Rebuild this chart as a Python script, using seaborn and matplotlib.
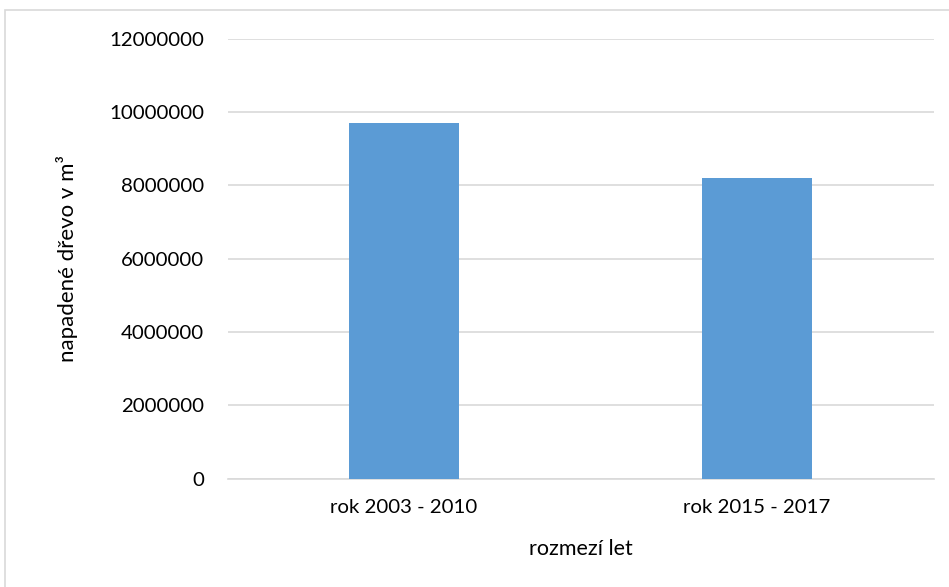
import matplotlib
matplotlib.use("Agg")
import matplotlib.pyplot as plt
import matplotlib.patches as mpatches
import seaborn as sns
import pandas as pd

categories = ["rok 2003 - 2010", "rok 2015 - 2017"]
values = [9690000, 8200000]
yticks = [0, 2000000, 4000000, 6000000, 8000000, 10000000, 12000000]

sns.set_theme(style="white")
plt.rcParams["font.family"] = ["Lato", "DejaVu Sans"]

df = pd.DataFrame({"obdobi": categories, "drevo": values})

W, H = 949, 587
fig = plt.figure(figsize=(W / 100, H / 100), dpi=100)
ax = fig.add_axes([227.5 / W, 1 - 478.5 / H, (933.5 - 227.5) / W, (478.5 - 38.7) / H])

sns.barplot(data=df, x="obdobi", y="drevo", color="#5B9BD5", width=0.31,
            saturation=1, linewidth=0, ax=ax, zorder=3)

ax.set_ylim(0, 12000000)
ax.set_xlim(-0.5, 1.5)
ax.set_yticks(yticks)
ax.set_yticklabels([str(v) for v in yticks])
ax.yaxis.grid(True, color="#D9D9D9", linewidth=1.2, zorder=0)
ax.xaxis.grid(False)
for side in ["top", "right", "left"]:
    ax.spines[side].set_visible(False)
ax.spines["bottom"].set_color("#D9D9D9")
ax.spines["bottom"].set_linewidth(1.2)
ax.tick_params(axis="y", length=0, pad=17, labelsize=14.7, labelcolor="#000000")
ax.tick_params(axis="x", length=0, pad=15, labelsize=14.7, labelcolor="#000000")

ax.set_xlabel("rozmezí let", fontsize=15.5, labelpad=16, color="#000000")
ax.set_ylabel("napadené dřevo v m³", fontsize=16, labelpad=22, color="#000000")

# outer chart frame
frame = mpatches.Rectangle((4.5 / W, -0.01), 1.02, 1 - 10 / H + 0.01,
                           transform=fig.transFigure, fill=False,
                           edgecolor="#D9D9D9", linewidth=1.2)
fig.patches.append(frame)

fig.savefig("out.png", dpi=100)
